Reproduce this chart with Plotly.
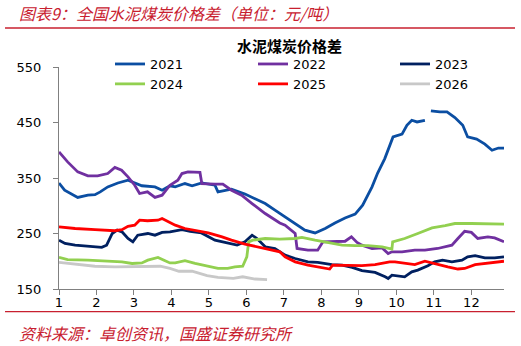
import plotly.graph_objects as go

# ---- data (x = month position, y = price gap 元/吨) ----
m2021 = [1.0, 1.15, 1.5, 1.77, 1.96, 2.1, 2.3, 2.57, 2.84, 3.02, 3.21, 3.56, 3.75, 3.96, 4.1, 4.36, 4.55, 4.81,
         5.16, 5.24, 5.6, 5.96, 6.23, 6.5, 6.76, 7.03, 7.3, 7.56, 7.83, 8.1, 8.36, 8.63, 8.9, 9.1, 9.35, 9.5,
         9.69, 9.82, 9.91, 10.15, 10.28, 10.41, 10.55, 10.76, 10.84, 10.92, 11.16, 11.35, 11.56, 11.77, 11.9,
         12.14, 12.36, 12.55, 12.72, 12.87]
v2021 = [341, 328, 315, 319, 320, 325, 334, 341, 346, 341, 336, 334, 328, 336, 334, 340, 336, 341,
         337, 325, 330, 321, 312, 304, 292, 280, 269, 256, 251, 259, 269, 278, 285, 301, 334, 359,
         385, 409, 424, 429, 445, 454, 451, 454, None, 471, 469, 469, 459, 445, 424,
         420, 411, 400, 404, 404]

m2022 = [1.0, 1.23, 1.5, 1.77, 2.03, 2.3, 2.49, 2.67, 2.84, 3.02, 3.15, 3.36, 3.56, 3.75, 3.96, 4.17, 4.28,
         4.44, 4.76, 4.81, 5.16, 5.37, 5.6, 5.87, 6.15, 6.5, 6.89, 7.03, 7.3, 7.35, 7.64, 7.9, 8.04, 8.36,
         8.63, 8.8, 8.95, 9.08, 9.35, 9.62, 9.78, 9.88, 10.15, 10.49, 10.76, 11.1, 11.48, 11.64, 11.82,
         12.0, 12.17, 12.44, 12.62, 12.87]
v2022 = [397, 379, 361, 354, 354, 358, 369, 364, 352, 337, 322, 325, 315, 319, 337, 346, 358,
         361, 360, 340, 339, 339, 328, 319, 304, 286, 269, 265, 250, 223, 220, 220, 235, 236,
         236, 244, 234, 229, 223, 224, 214, 217, 217, 220, 220, 223, 229, 241, 254,
         252, 241, 244, 242, 235]

m2023 = [1.0, 1.16, 1.43, 1.77, 2.14, 2.27, 2.42, 2.55, 2.68, 2.84, 2.97, 3.1, 3.37, 3.56, 3.75, 3.96, 4.28,
         4.5, 4.8, 5.16, 5.6, 5.75, 5.96, 6.15, 6.28, 6.5, 6.76, 7.03, 7.3, 7.64, 7.9, 8.28, 8.55, 8.82,
         9.08, 9.43, 9.7, 9.78, 9.88, 10.22, 10.41, 10.57, 10.84, 11.02, 11.23, 11.48, 11.75, 11.9, 12.1,
         12.36, 12.62, 12.87]
v2023 = [238, 232, 229, 227, 225, 229, 250, 256, 253, 241, 235, 247, 250, 247, 252, 253, 257,
         254, 251, 238, 232, 229, 235, 247, 241, 226, 223, 211, 205, 199, 198, 194, 193, 189,
         183, 180, 172, 169, 175, 172, 181, 184, 192, 199, 202, 199, 202, 208, 210,
         206, 206, 208]

m2024 = [1.0, 1.23, 1.77, 2.3, 2.68, 2.95, 3.21, 3.37, 3.64, 3.83, 3.96, 4.1, 4.36, 4.63, 4.98, 5.24, 5.5,
         5.69, 5.9, 6.01, 6.06, 6.17, 6.5, 6.89, 7.3, 7.48, 7.83, 8.17, 8.55, 8.9, 9.24, 9.62, 9.82, 9.88,
         9.9, 10.22, 10.57, 10.95, 11.3, 11.56, 12.0, 12.4, 12.87]
v2024 = [207, 203, 202, 201, 199, 196, 197, 202, 207, 201, 197, 197, 201, 196, 191, 187, 187,
         190, 191, 208, 235, 238, 241, 240, 241, 243, 238, 234, 229, 228, 228, 226, 223, 222,
         235, 241, 250, 260, 264, 268, 268, 268, 267]

m2025 = [1.0, 1.43, 1.96, 2.3, 2.49, 2.68, 2.84, 3.02, 3.15, 3.36, 3.64, 3.75, 3.96, 4.1, 4.36, 4.7, 4.98,
         5.35, 5.6, 5.96, 6.3, 6.5, 6.89, 7.03, 7.3, 7.64, 8.01, 8.22, 8.3, 8.71, 9.08, 9.43, 9.82, 9.96,
         10.22, 10.49, 10.76, 11.1, 11.37, 11.64, 11.82, 12.1, 12.36, 12.62, 12.87]
v2025 = [262, 259, 257, 255, 255, 257, 263, 265, 274, 273, 274, 277, 269, 265, 259, 255, 251,
         244, 238, 231, 226, 223, 217, 208, 199, 193, 188, 186, 193, 192, 192, 194, 199, 199,
         196, 194, 200, 194, 190, 186, 187, 194, 196, 199, 200]

m2026 = [1.0, 1.43, 1.96, 2.49, 2.95, 3.37, 3.7, 3.96, 4.2, 4.55, 4.95, 5.24, 5.65, 5.9, 6.23, 6.55]
v2026 = [198, 195, 191, 190, 190, 191, 191, 187, 182, 182, 174, 171, 169, 172, 168, 167]

years = ["2021", "2022", "2023", "2024", "2025", "2026"]
month_ticks = list(range(1, 13))
y_ticks = [150, 250, 350, 450, 550]

series = [(m2021, v2021), (m2022, v2022), (m2023, v2023), (m2024, v2024), (m2025, v2025), (m2026, v2026)]
colors = ["#0B4EA2", "#7030A0", "#002060", "#92D050", "#FF0000", "#C8C8C8"]
legend_ids = ["legend", "legend2", "legend3", "legend", "legend2", "legend3"]

fig = go.Figure()
for name, (xs, ys), c, lg in zip(years, series, colors, legend_ids):
    assert len(xs) == len(ys), name
    fig.add_trace(go.Scatter(x=xs, y=ys, mode="lines", name=name, legend=lg,
                             line=dict(color=c, width=2.8), connectgaps=False))

red = "#C8202F"
tick_font = dict(family="DejaVu Sans", size=13, color="#000000")


def legend_box(xp):
    return dict(orientation="v", x=xp, y=1.081, xanchor="left", yanchor="top", font=tick_font,
                bgcolor="rgba(0,0,0,0)", tracegroupgap=0)


fig.update_layout(
    width=521, height=346,
    margin=dict(l=59, r=17, t=67, b=57),
    paper_bgcolor="white", plot_bgcolor="white",
    showlegend=True,
    legend=legend_box(0.1146),
    legend2=legend_box(0.436),
    legend3=legend_box(0.755),
    xaxis=dict(range=[1, 12.87], tickvals=month_ticks, ticktext=[str(t) for t in month_ticks],
               showline=True, linecolor="#808080", linewidth=1, ticks="outside", ticklen=5,
               tickcolor="#808080", showgrid=False, zeroline=False, tickfont=tick_font,
               ticklabelstandoff=-4),
    yaxis=dict(range=[150, 550], tickvals=y_ticks, showline=True, linecolor="#808080", linewidth=1,
               ticks="outside", ticklen=5, tickcolor="#808080", showgrid=False, zeroline=False,
               tickfont=tick_font, ticklabelstandoff=9),
)

cjk = "Noto Sans CJK SC"
fig.add_annotation(text="<i>图表9：全国水泥煤炭价格差（单位：元/吨）</i>", xref="paper", yref="paper",
                   x=-0.094, y=1.243, xanchor="left", yanchor="middle", showarrow=False,
                   font=dict(family=cjk, size=16, color=red))
fig.add_annotation(text="<i>资料来源：卓创资讯，国盛证券研究所</i>", xref="paper", yref="paper",
                   x=-0.094, y=-0.198, xanchor="left", yanchor="middle", showarrow=False,
                   font=dict(family=cjk, size=16, color=red))
fig.add_annotation(text="<b>水泥煤炭价格差</b>", xref="paper", yref="paper",
                   x=0.519, y=1.099, xanchor="center", yanchor="middle", showarrow=False,
                   font=dict(family=cjk, size=15, color="#000000"))

fig.add_shape(type="line", xref="paper", yref="paper", x0=-0.1213, x1=1.0247, y0=1.1757, y1=1.1757,
              line=dict(color=red, width=1.5))
fig.add_shape(type="line", xref="paper", yref="paper", x0=-0.1213, x1=1.0247, y0=-0.1023, y1=-0.1023,
              line=dict(color=red, width=1.2))

fig.write_html("out.html")
